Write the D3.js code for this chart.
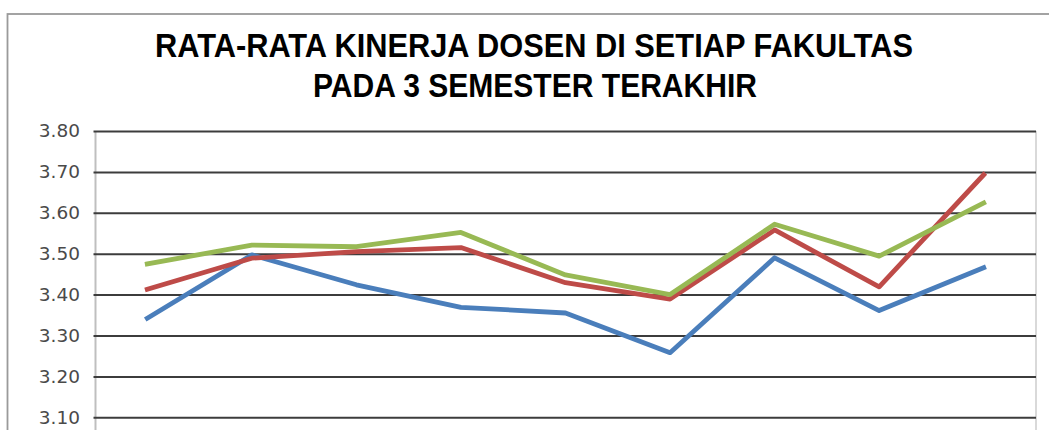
<!DOCTYPE html>
<html>
<head>
<meta charset="utf-8">
<script src="https://cdn.jsdelivr.net/npm/d3@7"></script>
<style>
  html, body { margin: 0; padding: 0; background: #ffffff; }
  svg { display: block; }
</style>
</head>
<body>
<div id="chart"></div>
<script>
// ---- data ----
const titleLines = ["RATA-RATA KINERJA DOSEN DI SETIAP FAKULTAS", "PADA 3 SEMESTER TERAKHIR"];
const categories = ["Fakultas 1", "Fakultas 2", "Fakultas 3", "Fakultas 4", "Fakultas 5", "Fakultas 6", "Fakultas 7", "Fakultas 8", "Fakultas 9"];
const seriesNames = ["Semester 1", "Semester 2", "Semester 3"];
const semester1 = [3.342, 3.497, 3.424, 3.369, 3.355, 3.258, 3.490, 3.361, 3.466];
const semester2 = [3.413, 3.489, 3.505, 3.515, 3.429, 3.389, 3.558, 3.419, 3.693];
const semester3 = [3.475, 3.521, 3.517, 3.552, 3.448, 3.400, 3.572, 3.494, 3.624];
const yTicks = [3.00, 3.10, 3.20, 3.30, 3.40, 3.50, 3.60, 3.70, 3.80];
const seriesColors = ["#4a7ebb", "#be4b48", "#98b954"];

// ---- layout ----
const W = 1049, H = 430;
const plot = { left: 95, right: 1036, top: 131, bottom: 458.2 };

const svg = d3.select("#chart").append("svg")
  .attr("width", W).attr("height", H);

// outer chart border (extends beyond the visible frame)
svg.append("rect")
  .attr("x", 7.5).attr("y", 14)
  .attr("width", 1100).attr("height", 500)
  .attr("fill", "#ffffff")
  .attr("stroke", "#9a9a9a").attr("stroke-width", 1.8);

// title
svg.append("g").selectAll("text").data(titleLines).join("text")
  .attr("x", (d, i) => i === 0 ? 534 : 535)
  .attr("y", (d, i) => i === 0 ? 57 : 97)
  .attr("text-anchor", "middle")
  .attr("textLength", (d, i) => i === 0 ? 758 : 444)
  .attr("lengthAdjust", "spacingAndGlyphs")
  .style("font-family", "'Liberation Sans Narrow', 'Liberation Sans', Arial, sans-serif")
  .style("font-weight", "bold")
  .style("font-size", "34px")
  .style("fill", "#000000")
  .text(d => d);

// scales
const x = d3.scaleBand().domain(categories).range([plot.left, plot.right]).padding(0);
const y = d3.scaleLinear().domain([yTicks[0], yTicks[yTicks.length - 1]]).range([plot.bottom, plot.top]);

// plot area right border
svg.append("line")
  .attr("x1", plot.right).attr("x2", plot.right)
  .attr("y1", plot.top).attr("y2", plot.bottom)
  .attr("stroke", "#d9d9d9").attr("stroke-width", 2);

// y axis with gridlines
const yAxis = d3.axisLeft(y)
  .tickValues(yTicks)
  .tickFormat(d3.format(".2f"))
  .tickSizeInner(-(plot.right - plot.left))
  .tickSizeOuter(0)
  .tickPadding(15);

const gy = svg.append("g")
  .attr("transform", `translate(${plot.left},0)`)
  .call(yAxis);

gy.select(".domain").attr("stroke", "#bfbfbf").attr("stroke-width", 2);
gy.selectAll(".tick line")
  .attr("x1", -1.5)
  .attr("stroke", "#3c3c3c").attr("stroke-width", 2);
gy.selectAll(".tick text")
  .style("font-family", "'DejaVu Sans', Verdana, sans-serif")
  .style("font-size", "18.5px")
  .attr("fill", "#4a4a4a");

// lines
const allSeries = [semester1, semester2, semester3];
const line = d3.line()
  .x((d, i) => x(categories[i]) + x.bandwidth() / 2)
  .y(d => y(d));

svg.append("g").selectAll("path").data(allSeries).join("path")
  .attr("d", d => line(d))
  .attr("fill", "none")
  .attr("stroke", (d, i) => seriesColors[i])
  .attr("stroke-width", 4.8)
  .attr("stroke-linejoin", "round")
  .attr("stroke-linecap", "square")
  .attr("data-name", (d, i) => seriesNames[i]);
</script>
</body>
</html>
